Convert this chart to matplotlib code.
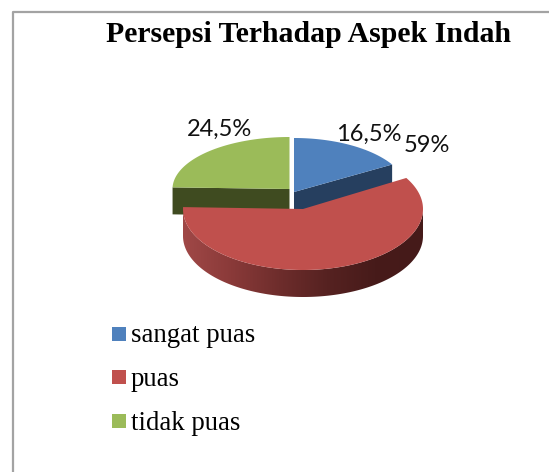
import numpy as np
import matplotlib
matplotlib.use("Agg")
import matplotlib.pyplot as plt
from matplotlib.colors import LinearSegmentedColormap
from matplotlib.patches import Polygon, Rectangle

# ---- data ----
categories = ["sangat puas", "puas", "tidak puas"]
values = [16.5, 59, 24.5]
value_labels = ["16,5%", "59%", "24,5%"]
title = "Persepsi Terhadap Aspek Indah"

colors = ["#4f81bd", "#c0504d", "#9bbb59"]
side_colors = ["#263f5f", "#5a2524", "#3f4b20"]

# each slice is exploded a bit, so each one has its own ellipse (pixels)
centers = [(294, 192), (303, 209), (289.5, 189)]
radii = [(114, 54), (120, 61), (117, 52)]
depth = 27

fig = plt.figure(figsize=(5.49, 4.72), dpi=100)
ax = fig.add_axes([0, 0, 1, 1])
ax.set_xlim(0, 549)
ax.set_ylim(472, 0)
ax.axis("off")

# outer frame
ax.plot([12.5, 12.5, 549], [472, 11.5, 11.5], color="#a3a3a3", lw=1.6, zorder=1)


def arc(center, radius, a1, a2, dy=0):
    # angles run clockwise from 12 o'clock, in degrees
    t = np.radians(np.linspace(a1, a2, 200))
    return np.column_stack([center[0] + radius[0] * np.sin(t),
                            center[1] - radius[1] * np.cos(t) + dy])


shares = np.array(values) / sum(values) * 360
ends = np.cumsum(shares)
starts = ends - shares

# cut faces behind the red slice
for i in [0, 2]:
    cx, cy = centers[i]
    edge = starts[i] + shares[i] if i == 0 else starts[i]
    p = arc(centers[i], radii[i], edge, edge, 0)[0]
    ax.add_patch(Polygon([(cx, cy), p, (p[0], p[1] + depth), (cx, cy + depth)],
                         fc=side_colors[i], ec="none", zorder=2))

# tops of blue and green
for i in [0, 2]:
    pts = np.vstack([[centers[i]], arc(centers[i], radii[i], starts[i], ends[i])])
    ax.add_patch(Polygon(pts, fc=colors[i], ec="none", zorder=3))

# red rim with its shading
rim_top = arc(centers[1], radii[1], 90, 270)
rim_bot = arc(centers[1], radii[1], 270, 90, dy=depth)
rim = Polygon(np.vstack([rim_top, rim_bot]), fc="none", ec="none", zorder=4)
ax.add_patch(rim)
shade = LinearSegmentedColormap.from_list(
    "rim", ["#a04847", "#8a3a39", "#6e2d2c", "#562221", "#471b1a", "#451a19"])
im = ax.imshow(np.linspace(0, 1, 256).reshape(1, -1), cmap=shade, aspect="auto",
               extent=(183, 423, 300, 200), zorder=4)
im.set_clip_path(rim)
ax.set_xlim(0, 549)
ax.set_ylim(472, 0)

# red top
pts = np.vstack([[centers[1]], arc(centers[1], radii[1], starts[1], ends[1])])
ax.add_patch(Polygon(pts, fc=colors[1], ec="none", zorder=5))

# texts
serif = "Liberation Serif"
ax.text(308, 35, title, family=serif, fontweight="bold", fontsize=21.4,
        ha="center", va="center", color="black", zorder=6)

label_pos = [(368.5, 134), (427, 145.5), (220, 129.5)]
for txt, (x, y) in zip(value_labels, label_pos):
    ax.text(x, y, txt, family="Lato", fontsize=17, ha="center", va="center",
            color="#111111", zorder=6)

# legend
legend_y = [334, 377, 421]
for name, col, y in zip(categories, colors, legend_y):
    ax.add_patch(Rectangle((112, y - 7), 14, 14, fc=col, ec="none", zorder=6))
    ax.text(131, y + 2, name, family=serif, fontsize=19.3, ha="left", va="center",
            color="black", zorder=6)

fig.savefig("out.png", dpi=100)
